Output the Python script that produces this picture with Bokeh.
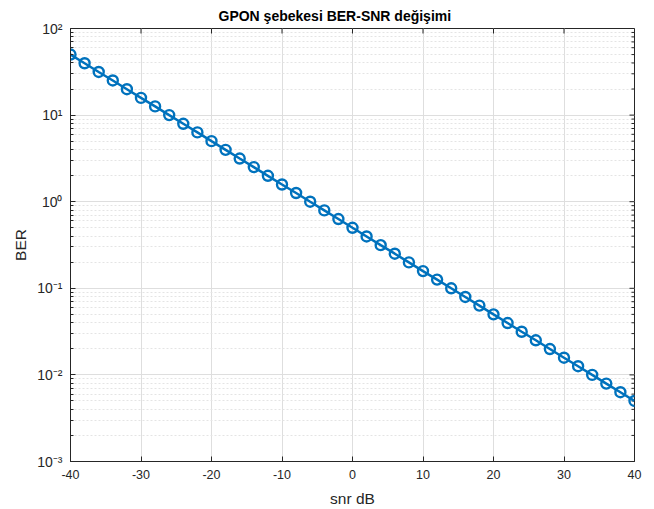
from bokeh.plotting import figure
from bokeh.models import FixedTicker
from bokeh.embed import file_html
from bokeh.resources import INLINE

snr_db = [-40, -38, -36, -34, -32, -30, -28, -26, -24, -22, -20, -18, -16, -14, -12,
          -10, -8, -6, -4, -2, 0, 2, 4, 6, 8, 10, 12, 14, 16, 18, 20, 22, 24, 26, 28,
          30, 32, 34, 36, 38, 40]
ber = [50.0, 39.7, 31.5, 25.1, 19.9, 15.8, 12.6, 10.0, 7.94, 6.31, 5.0, 3.97, 3.15,
       2.51, 1.99, 1.58, 1.26, 1.0, 0.794, 0.631, 0.5, 0.397, 0.315, 0.251, 0.199,
       0.158, 0.126, 0.1, 0.0794, 0.0631, 0.05, 0.0397, 0.0315, 0.0251, 0.0199,
       0.0158, 0.0126, 0.01, 0.00794, 0.00631, 0.005]

x_ticks = [-40, -30, -20, -10, 0, 10, 20, 30, 40]
x_tick_labels = ["-40", "-30", "-20", "-10", "0", "10", "20", "30", "40"]
y_ticks = [0.001, 0.01, 0.1, 1, 10, 100]
y_tick_labels = ["10⁻³", "10⁻²", "10⁻¹", "10⁰", "10¹", "10²"]
y_minor = [m * 10.0 ** e for e in range(-3, 2) for m in range(2, 10)]

FONT = "Liberation Sans"
BLUE = "#0072BD"
TXT = "#262626"

X0, X1 = -40, 40
Y0, Y1 = 0.001, 100
FW, FH = 564, 433

p = figure(frame_width=FW, frame_height=FH, y_axis_type="log",
           x_range=(X0, X1), y_range=(Y0, Y1),
           output_backend="svg", toolbar_location=None,
           title="GPON şebekesi BER-SNR değişimi",
           min_border_left=70, min_border_right=12, min_border_top=28,
           min_border_bottom=40)
p.title.align = "left"
p.title.text_font = FONT
p.title.text_font_size = "14px"
p.title.text_font_style = "bold"
p.title.text_color = "#000000"
p.title.offset = 148
p.title.standoff = 10

p.outline_line_color = TXT
p.outline_line_width = 1
p.outline_line_alpha = 1

p.xaxis.ticker = FixedTicker(ticks=x_ticks)
p.xaxis.major_label_overrides = {v: s for v, s in zip(x_ticks, x_tick_labels)}
p.yaxis.ticker = FixedTicker(ticks=y_ticks, minor_ticks=y_minor)
p.yaxis.major_label_overrides = {v: s for v, s in zip(y_ticks, y_tick_labels)}

for ax in (p.xaxis[0], p.yaxis[0]):
    ax.major_tick_in = 5
    ax.major_tick_out = 0
    ax.minor_tick_in = 3
    ax.minor_tick_out = 0
    ax.major_label_text_font = FONT
    ax.major_label_text_font_size = "12.5px"
    ax.major_label_text_color = TXT
    ax.axis_label_text_font = FONT
    ax.axis_label_text_font_size = "15.5px"
    ax.axis_label_text_font_style = "normal"
    ax.axis_label_text_color = TXT
    ax.axis_line_color = TXT
    ax.major_tick_line_color = TXT
    ax.minor_tick_line_color = TXT
p.xaxis.minor_tick_line_color = None
p.yaxis.major_label_text_font_size = "14px"
p.xaxis.axis_label = "snr dB"
p.yaxis.axis_label = "BER"
p.xaxis.major_label_standoff = 8
p.yaxis.major_label_standoff = 8
p.xaxis.axis_label_standoff = 8
p.yaxis.axis_label_standoff = 5

# tick marks on the right and top edges of the box
dx_major = (X1 - X0) * 5 / FW
dx_minor = (X1 - X0) * 3 / FW
fy_major = 10 ** (-5 * 5 / FH)
p.segment(x0=[X1] * len(y_ticks), y0=y_ticks, x1=[X1 - dx_major] * len(y_ticks), y1=y_ticks,
          line_color=TXT, line_width=1)
p.segment(x0=[X1] * len(y_minor), y0=y_minor, x1=[X1 - dx_minor] * len(y_minor), y1=y_minor,
          line_color=TXT, line_width=1)
p.segment(x0=x_ticks, y0=[Y1] * len(x_ticks), x1=x_ticks, y1=[Y1 * fy_major] * len(x_ticks),
          line_color=TXT, line_width=1)

p.xgrid.ticker = FixedTicker(ticks=x_ticks)
p.xgrid.grid_line_color = "#dedede"
p.ygrid.grid_line_color = "#dedede"
p.ygrid.minor_grid_line_color = "#e4e4e4"
p.ygrid.minor_grid_line_dash = "2 2"

p.line(snr_db, ber, line_color=BLUE, line_width=2.5)
p.scatter(snr_db, ber, marker="circle", size=10, fill_color=None,
          line_color=BLUE, line_width=2.4)

open("out.html", "w").write(file_html(p, INLINE))
